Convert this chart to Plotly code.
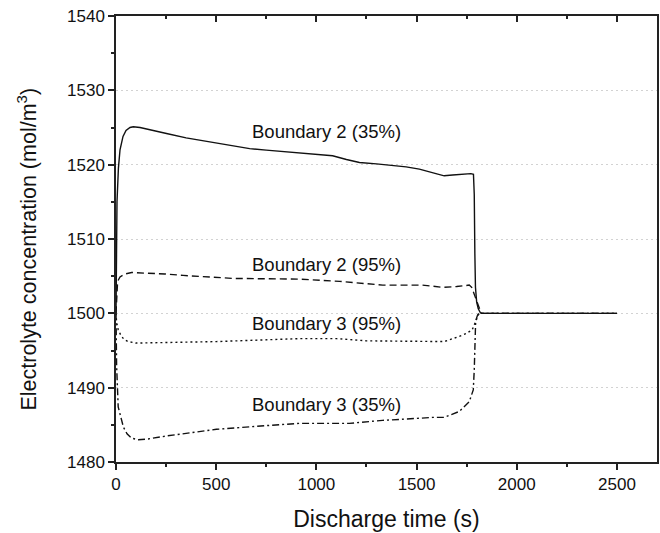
import plotly.graph_objects as go

# ---- data ----
t_b2_35 = [0, 2, 5, 12, 20, 35, 50, 70, 86, 120, 180, 252, 350, 501, 600, 667, 750, 817, 916, 1000,
           1081, 1150, 1215, 1300, 1448, 1514, 1580, 1638, 1680, 1720, 1771, 1784, 1788, 1791, 1794,
           1800, 1808, 1818, 1825, 1900, 2200, 2500]
c_b2_35 = [1500, 1508, 1515, 1519.5, 1522, 1523.8, 1524.6, 1525.0, 1525.1, 1525.0, 1524.6, 1524.2,
           1523.6, 1522.9, 1522.45, 1522.15, 1521.95, 1521.8, 1521.6, 1521.4, 1521.2, 1520.7, 1520.3,
           1520.1, 1519.7, 1519.4, 1518.9, 1518.5, 1518.6, 1518.7, 1518.8, 1518.7, 1516, 1508,
           1503.5, 1501.5, 1500.6, 1500.1, 1500.0, 1500.0, 1500.0, 1500.0]

t_b2_95 = [0, 3, 8, 20, 45, 78, 95, 150, 244, 335, 584, 916, 1116, 1331, 1529, 1630, 1700, 1746,
           1763, 1775, 1788, 1805, 1823, 1850, 2500]
c_b2_95 = [1500, 1502.5, 1504.3, 1504.9, 1505.3, 1505.5, 1505.5, 1505.4, 1505.3, 1505.1, 1504.7,
           1504.6, 1504.3, 1503.8, 1503.8, 1503.5, 1503.6, 1503.8, 1503.8, 1503.5, 1502.5, 1501.2,
           1500, 1500, 1500]

t_b3_95 = [0, 3, 11, 25, 40, 61, 100, 244, 500, 916, 1100, 1250, 1580, 1638, 1713, 1750, 1778,
           1795, 1805, 1812, 1850, 2500]
c_b3_95 = [1500, 1498.8, 1497.8, 1497.0, 1496.5, 1496.2, 1496.0, 1496.1, 1496.2, 1496.6, 1496.6,
           1496.3, 1496.3, 1496.2, 1496.9, 1497.3, 1497.8, 1498.8, 1499.5, 1500, 1500, 1500]

t_b3_35 = [0, 3, 11, 25, 37, 55, 78, 111, 160, 252, 501, 700, 916, 1165, 1330, 1524, 1580, 1638,
           1713, 1763, 1783, 1788, 1791, 1795, 1805, 1813, 1850, 2500]
c_b3_35 = [1500, 1493, 1487.4, 1485.8, 1484.7, 1483.8, 1483.2, 1483.0, 1483.1, 1483.5, 1484.4,
           1484.8, 1485.2, 1485.2, 1485.6, 1485.9, 1486.0, 1486.0, 1486.8, 1488.1, 1489.7, 1492.4,
           1496, 1499, 1499.8, 1500, 1500, 1500]

labels = ["Boundary 2 (35%)", "Boundary 2 (95%)", "Boundary 3 (95%)", "Boundary 3 (35%)"]
label_x = [667, 667, 667, 667]
label_y = [1524.5, 1506.6, 1498.6, 1487.7]

x_title = "Discharge time (s)"
y_title = "Electrolyte concentration (mol/m<sup>3</sup>)"

x_range = [0, 2700]
y_range = [1480, 1540]

LC = "#111111"
FONT = "Liberation Sans, Arial, sans-serif"

fig = go.Figure()
series = [
    (t_b2_35, c_b2_35, "solid"),
    (t_b2_95, c_b2_95, "7px,4px"),
    (t_b3_95, c_b3_95, "2px,3px"),
    (t_b3_35, c_b3_35, "7px,3px,2px,3px"),
]
for t, c, d in series:
    fig.add_trace(go.Scatter(x=t, y=c, mode="lines",
                             line=dict(color=LC, width=1.4, dash=d),
                             showlegend=False, hoverinfo="skip"))

# empty trace to activate the top mirror axis
fig.add_trace(go.Scatter(x=[], y=[], xaxis="x2", showlegend=False))

for txt, x, y in zip(labels, label_x, label_y):
    fig.add_annotation(x=x, y=y, text=txt, showarrow=False, xanchor="left", yanchor="middle",
                       font=dict(size=18.5, color="#111111", family=FONT))

# y-axis title as rotated annotation (centred on the plot area)
fig.add_annotation(xref="paper", yref="paper", x=-0.165, y=0.478, text=y_title, textangle=-90,
                   showarrow=False, xanchor="center", yanchor="middle",
                   font=dict(size=21.5, color="#111111", family=FONT))

axis_line = dict(showline=True, linecolor="#222222", linewidth=1.5)

fig.update_layout(
    width=660, height=533,
    margin=dict(l=116, r=1, t=16, b=71),
    paper_bgcolor="white", plot_bgcolor="white",
    font=dict(family=FONT, color="#111111", size=17),
    xaxis=dict(range=x_range, dtick=500, tick0=0, ticks="outside", ticklen=6, tickwidth=1.5,
               tickcolor="#222222", showgrid=False, zeroline=False,
               minor=dict(dtick=250, ticks="outside", ticklen=3, tickwidth=1.5, tickcolor="#222222"),
               title=dict(text=x_title, font=dict(size=23), standoff=18),
               mirror=False, **axis_line),
    xaxis2=dict(range=x_range, overlaying="x", side="top", anchor="y", dtick=500, tick0=0,
                ticks="inside", ticklen=6, tickwidth=1.5, tickcolor="#222222",
                showticklabels=False, showgrid=False, zeroline=False,
                minor=dict(dtick=250, ticks="inside", ticklen=3, tickwidth=1.5, tickcolor="#222222"),
                **axis_line),
    yaxis=dict(range=y_range, dtick=10, tick0=1480, ticks="outside", ticklen=6, tickwidth=1.5,
               tickcolor="#222222", showgrid=True, gridcolor="#d2d2d2", griddash="2px,3px",
               gridwidth=1, zeroline=False, mirror=True,
               minor=dict(dtick=5, ticks="outside", ticklen=3, tickwidth=1.5, tickcolor="#222222"),
               **axis_line),
)

fig.write_html("out.html")
